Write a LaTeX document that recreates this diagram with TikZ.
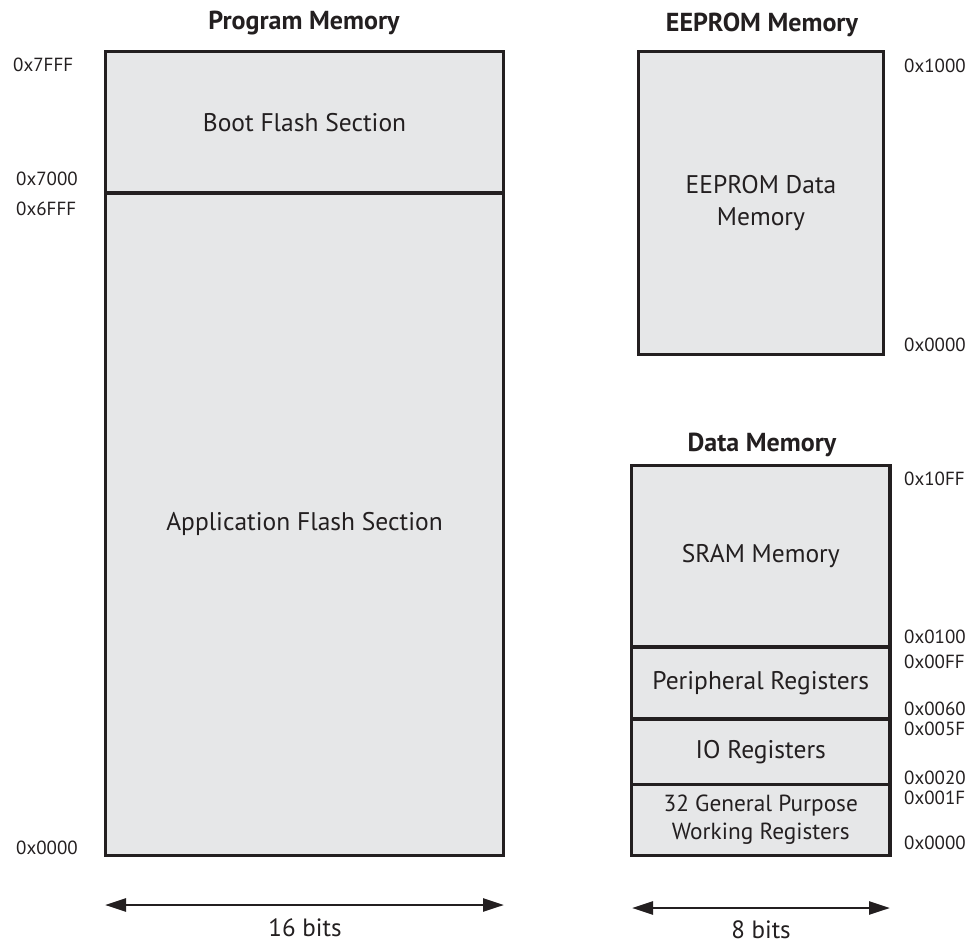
\documentclass[tikz,border=0pt]{standalone}
\usepackage{fontspec}
\setmainfont{PT Sans}
\usepackage{xcolor}
\usepackage{tikz}
\usetikzlibrary{positioning,arrows.meta}
\definecolor{MemGray}{RGB}{230,231,232}
\definecolor{InkBlack}{RGB}{35,31,32}

\begin{document}
\begin{tikzpicture}[x=1pt, y=-1pt,
                % Style of the memory blocks
                memblock/.style={rectangle, draw=InkBlack, fill=MemGray, line width=3.5pt, text=InkBlack, font=\fontsize{25.5}{31}\selectfont, align=center, inner sep=0pt, outer sep=0pt, anchor=north west},
                % Style of the texts
                memtitle/.style={text=InkBlack, font=\bfseries\fontsize{26}{30}\selectfont, inner sep=0pt, anchor=base},
                addr/.style={text=InkBlack, font=\fontsize{19}{22}\selectfont, inner sep=0pt, anchor=base west},
                bitlabel/.style={text=InkBlack, font=\fontsize{25}{28}\selectfont, inner sep=0pt, anchor=base},
                % Style of the width arrows
                widtharrow/.style={{Triangle[length=21pt,width=13pt]}-{Triangle[length=21pt,width=13pt]}, draw=InkBlack, line width=2.6pt}
            ]
                \useasboundingbox (0,0) rectangle (978,943);

                % --- PROGRAM MEMORY ---
                \node[memtitle] (progtitle) at (304,29) {Program Memory};
                \node[memblock, minimum width=398pt, minimum height=141.5pt] (boot) at (105.5,51.5) {Boot Flash Section};
                \node[memblock, minimum width=398pt, minimum height=662.5pt] (app) at (105.5,193) {Application Flash Section};

                \node[addr] (p7fff) at (13,71) {0x7FFF};
                \node[addr] (p7000) at (16,185) {0x7000};
                \node[addr] (p6fff) at (16,215) {0x6FFF};
                \node[addr] (p0000) at (16,854) {0x0000};

                % --- EEPROM MEMORY ---
                \node[memtitle] (eetitle) at (762,31) {EEPROM Memory};
                \node[memblock, minimum width=245pt, minimum height=303pt, font=\fontsize{25.5}{32}\selectfont] (eeprom) at (638.5,51.5) {EEPROM Data\\Memory};

                \node[addr] (e1000) at (904,72) {0x1000};
                \node[addr] (e0000) at (904,351) {0x0000};

                % --- DATA MEMORY ---
                \node[memtitle] (datatitle) at (762,451) {Data Memory};
                \node[memblock, minimum width=258.5pt, minimum height=181.5pt] (sram) at (631.5,465.5) {SRAM Memory};
                \node[memblock, minimum width=258.5pt, minimum height=72pt] (periph) at (631.5,647) {Peripheral Registers};
                \node[memblock, minimum width=258.5pt, minimum height=65.5pt] (ioreg) at (631.5,719) {IO Registers};
                \node[memblock, minimum width=258.5pt, minimum height=71pt, font=\fontsize{23.3}{28}\selectfont] (gpreg) at (631.5,784.5) {32 General Purpose\\Working Registers};

                \node[addr] (d10ff) at (904,485) {0x10FF};
                \node[addr] (d0100) at (904,643) {0x0100};
                \node[addr] (d00ff) at (904,668) {0x00FF};
                \node[addr] (d0060) at (904,715) {0x0060};
                \node[addr] (d005f) at (904,735) {0x005F};
                \node[addr] (d0020) at (904,784) {0x0020};
                \node[addr] (d001f) at (904,804) {0x001F};
                \node[addr] (d0000) at (904,849) {0x0000};

                % --- WIDTH ARROWS ---
                \coordinate (progL) at (105,905);
                \coordinate (progR) at (504,905);
                \coordinate (dataL) at (632,908);
                \coordinate (dataR) at (890,908);
                \draw[widtharrow] (progL) -- (progR);
                \draw[widtharrow] (dataL) -- (dataR);

                \node[bitlabel] (progbits) at (305,936) {16 bits};
                \node[bitlabel] (databits) at (761,938) {8 bits};

            \end{tikzpicture}
\end{document}
